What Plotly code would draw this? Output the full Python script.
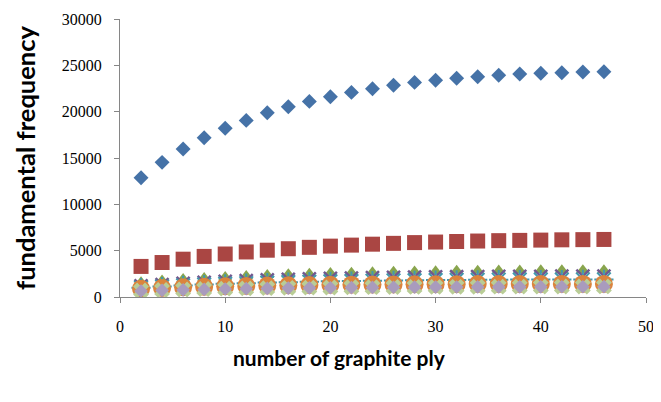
import plotly.graph_objects as go

plies = [2, 4, 6, 8, 10, 12, 14, 16, 18, 20, 22, 24, 26, 28, 30, 32, 34, 36, 38, 40, 42, 44, 46]

series_blue = [12870, 14530, 15970, 17190, 18200, 19060, 19890, 20530, 21110, 21610, 22080, 22480,
               22840, 23160, 23380, 23600, 23770, 23920, 24060, 24140, 24200, 24280, 24310]
series_red = [3300, 3720, 4080, 4380, 4640, 4860, 5050, 5210, 5360, 5490, 5600, 5700,
              5790, 5870, 5930, 5990, 6040, 6080, 6110, 6140, 6170, 6190, 6210]
series_green = [1600, 1780, 1930, 2060, 2170, 2270, 2370, 2450, 2520, 2580, 2630, 2680,
                2730, 2760, 2790, 2820, 2840, 2850, 2870, 2880, 2890, 2900, 2900]
series_purple = [1190, 1345, 1480, 1590, 1685, 1765, 1840, 1900, 1950, 2000, 2045, 2080,
                 2115, 2145, 2165, 2185, 2200, 2215, 2230, 2235, 2240, 2250, 2250]
series_aqua = [1005, 1135, 1250, 1345, 1425, 1490, 1555, 1605, 1650, 1690, 1725, 1760,
               1785, 1810, 1830, 1845, 1860, 1870, 1880, 1885, 1890, 1900, 1900]
series_orange = [900, 980, 1040, 1100, 1150, 1190, 1230, 1260, 1290, 1310, 1330, 1345,
                 1360, 1370, 1380, 1385, 1390, 1395, 1400, 1400, 1405, 1405, 1410]
series_lightgreen = [700, 760, 810, 860, 900, 930, 960, 990, 1010, 1030, 1050, 1060,
                     1075, 1085, 1095, 1100, 1110, 1115, 1120, 1125, 1130, 1135, 1140]
series_lavender = [650, 720, 770, 820, 860, 900, 930, 960, 980, 1000, 1020, 1035,
                   1050, 1060, 1070, 1080, 1085, 1090, 1095, 1100, 1105, 1110, 1115]

x_ticks = [0, 10, 20, 30, 40, 50]
x_tick_labels = ["0", "10", "20", "30", "40", "50"]
y_ticks = [0, 5000, 10000, 15000, 20000, 25000, 30000]
y_tick_labels = ["0", "5000", "10000", "15000", "20000", "25000", "30000"]

fig = go.Figure()

def add(vals, symbol, color, size, line_width=0, line_color=None, name=""):
    fig.add_trace(go.Scatter(
        x=plies, y=vals, mode="markers", name=name,
        marker=dict(symbol=symbol, color=color, size=size,
                    line=dict(width=line_width, color=line_color if line_color else color)),
    ))

add(series_blue, "diamond", "#4572A7", 11.5, name="series 1")
add(series_red, "square", "#AA4643", 15, name="series 2")
add(series_green, "triangle-up", "#89A54E", 12, name="series 3")
add(series_purple, "x-thin-open", "#71588F", 13, line_width=2.5, name="series 4")
add(series_aqua, "asterisk-open", "#4198AF", 16, line_width=2, name="series 5")
add(series_orange, "circle", "#DB843D", 18, name="series 6")
add(series_lightgreen, "x", "#B9CD96", 14, name="series 7")
add(series_lavender, "diamond", "#A99BBD", 10.5, name="series 8")

axis_line = "#868686"
tick_font = dict(family="Liberation Serif, DejaVu Serif, serif", size=16, color="black")
title_family = "Lato, Open Sans, sans-serif"

fig.update_layout(
    width=653, height=394,
    margin=dict(l=112, r=15, t=11, b=105),
    paper_bgcolor="white", plot_bgcolor="white",
    showlegend=False,
    xaxis=dict(
        range=[0, 50], tickvals=x_ticks, ticktext=x_tick_labels, ticks="outside", ticklen=5,
        tickcolor=axis_line, showline=True, linecolor=axis_line, linewidth=1,
        showgrid=False, zeroline=False, tickfont=tick_font, automargin=False,
        ticklabelstandoff=10,
    ),
    yaxis=dict(
        range=[0, 30000], tickvals=y_ticks, ticktext=y_tick_labels, ticks="outside", ticklen=5,
        tickcolor=axis_line, showline=True, linecolor=axis_line, linewidth=1,
        showgrid=False, zeroline=False, tickfont=tick_font, automargin=False,
        ticklabelstandoff=9,
        title=dict(text="<b>fundamental frequency</b>",
                   font=dict(family=title_family, size=25.5, color="black"), standoff=18),
    ),
    annotations=[dict(
        text="<b>number of graphite ply</b>", xref="paper", yref="paper",
        x=0.418, y=-0.216, xanchor="center", yanchor="middle", showarrow=False,
        font=dict(family=title_family, size=21, color="black"),
    )],
)

fig.write_html("out.html")
